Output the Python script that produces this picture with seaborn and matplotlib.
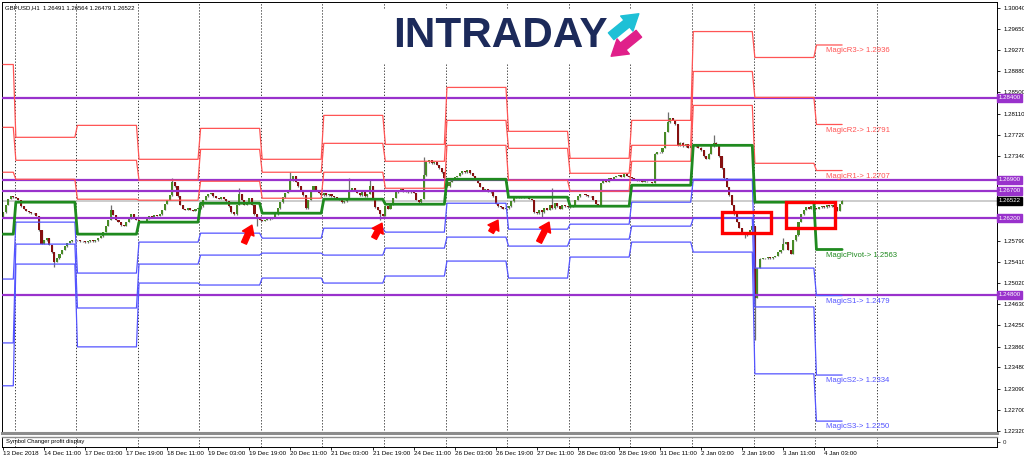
import numpy as np
import pandas as pd
import matplotlib
matplotlib.use("Agg")
import matplotlib.pyplot as plt
import seaborn as sns
from matplotlib import font_manager
from matplotlib.patches import Rectangle, FancyArrowPatch

# ---------------- data ----------------
day_names = ["13 Dec", "14 Dec", "17 Dec", "18 Dec", "19 Dec", "20 Dec", "21 Dec", "24 Dec",
             "26 Dec", "27 Dec", "28 Dec", "31 Dec", "2 Jan", "3 Jan", "4 Jan"]
bars_per_day = [5, 24, 24, 24, 24, 24, 24, 24, 24, 24, 24, 24, 24, 24, 11]

# hourly closes of GBPUSD H1, in pips (12652 -> 1.2652), one list per day
closes_13dec = [12631, 12644, 12655, 12660, 12658]
closes_14dec = [12657, 12653, 12642, 12637, 12633, 12631, 12629, 12629, 12624, 12598, 12573, 12580,
                12584, 12571, 12558, 12540, 12547, 12555, 12562, 12569, 12575, 12578, 12580, 12580]
closes_17dec = [12580, 12578, 12578, 12576, 12578, 12580, 12578, 12580, 12584, 12587, 12595, 12606,
                12617, 12635, 12626, 12617, 12613, 12607, 12606, 12613, 12620, 12627, 12622, 12617]
closes_18dec = [12615, 12613, 12615, 12620, 12624, 12622, 12626, 12624, 12627, 12635, 12646, 12653,
                12662, 12686, 12678, 12660, 12644, 12637, 12635, 12638, 12635, 12633, 12637, 12638]
closes_19dec = [12642, 12653, 12660, 12664, 12666, 12660, 12657, 12655, 12658, 12655, 12651, 12642,
                12631, 12627, 12644, 12664, 12653, 12644, 12649, 12657, 12644, 12627, 12620, 12617]
closes_20dec = [12615, 12617, 12618, 12620, 12622, 12627, 12638, 12649, 12658, 12666, 12671, 12689,
                12697, 12686, 12678, 12671, 12662, 12638, 12653, 12671, 12678, 12671, 12666, 12662]
closes_21dec = [12666, 12662, 12664, 12660, 12658, 12657, 12653, 12649, 12651, 12657, 12671, 12675,
                12671, 12666, 12662, 12667, 12660, 12664, 12678, 12657, 12640, 12635, 12627, 12624]
closes_24dec = [12642, 12637, 12644, 12657, 12667, 12671, 12673, 12669, 12671, 12667, 12671, 12666,
                12653, 12649, 12655, 12698, 12722, 12726, 12720, 12722, 12717, 12711, 12704, 12693]
closes_26dec = [12678, 12687, 12693, 12695, 12697, 12702, 12706, 12704, 12708, 12702, 12697, 12693,
                12684, 12677, 12671, 12673, 12669, 12667, 12660, 12646, 12642, 12640, 12637, 12638]
closes_27dec = [12642, 12651, 12657, 12658, 12657, 12658, 12657, 12657, 12655, 12653, 12631, 12629,
                12635, 12631, 12638, 12635, 12644, 12638, 12647, 12642, 12637, 12644, 12642, 12640]
closes_28dec = [12642, 12644, 12653, 12660, 12664, 12664, 12662, 12660, 12660, 12653, 12646, 12644,
                12684, 12689, 12687, 12693, 12691, 12695, 12697, 12698, 12695, 12700, 12697, 12695]
closes_31dec = [12693, 12691, 12689, 12689, 12687, 12687, 12686, 12686, 12684, 12738, 12740, 12740,
                12748, 12777, 12795, 12802, 12799, 12791, 12753, 12758, 12751, 12755, 12748, 12751]
closes_2jan = [12753, 12751, 12749, 12744, 12733, 12728, 12738, 12751, 12758, 12753, 12733, 12711,
               12693, 12677, 12662, 12644, 12627, 12613, 12602, 12595, 12589, 12593, 12598, 12606]
closes_3jan = [12475, 12529, 12546, 12547, 12547, 12549, 12547, 12549, 12551, 12558, 12562, 12573,
               12576, 12562, 12555, 12580, 12589, 12613, 12627, 12635, 12640, 12637, 12642, 12638]
closes_4jan = [12637, 12640, 12642, 12640, 12644, 12642, 12644, 12640, 12633, 12646, 12652]
first_open = 12622

# visible wick extremes (bar number, price in pips)
spike_bar = [20, 42, 66, 92, 99, 112, 135, 143, 147, 164, 210, 214, 259, 277, 289, 293, 304]
spike_pips = [12531, 12644, 12693, 12675, 12607, 12704, 12693, 12689, 12617, 12731, 12622, 12675,
              12813, 12771, 12584, 12398, 12584]

# daily MagicPivot levels
r3 = [1.29004, 1.27676, 1.27894, 1.27275, 1.27839, 1.27275, 1.28076, 1.27548, 1.28586, 1.27785, 1.27293, 1.27985, 1.29605, 1.29132, 1.2936]
r2 = [1.27858, 1.27257, 1.27257, 1.26893, 1.27457, 1.27039, 1.27566, 1.27239, 1.27985, 1.27475, 1.27020, 1.27530, 1.28877, 1.28404, 1.2791]
r1 = [1.27039, 1.26911, 1.26547, 1.26529, 1.26875, 1.26565, 1.27039, 1.26747, 1.27530, 1.26893, 1.26693, 1.27239, 1.28258, 1.27202, 1.2707]
pivot = [1.25910, 1.26493, 1.25910, 1.26129, 1.26474, 1.26292, 1.26547, 1.26456, 1.26911, 1.26584, 1.26420, 1.26802, 1.27530, 1.26493, 1.2563]
s1 = [1.25091, 1.26129, 1.25200, 1.25765, 1.25928, 1.25837, 1.26019, 1.25947, 1.26474, 1.26001, 1.26092, 1.26493, 1.26911, 1.25291, 1.2479]
s2 = [1.23926, 1.25728, 1.24563, 1.25364, 1.25528, 1.25564, 1.25528, 1.25655, 1.25856, 1.25692, 1.25819, 1.26056, 1.26201, 1.24582, 1.2334]
s3 = [1.23144, 1.25364, 1.23854, 1.25018, 1.24982, 1.25109, 1.25018, 1.25146, 1.25419, 1.25109, 1.25492, 1.25765, 1.25583, 1.23362, 1.2250]

hlines = [1.28400, 1.26900, 1.26700, 1.26200, 1.24800]
last_price = 1.26522
header = "GBPUSD,H1  1.26491 1.26564 1.26479 1.26522"

xtick_labels = ["13 Dec 2018", "14 Dec 11:00", "17 Dec 03:00", "17 Dec 19:00", "18 Dec 11:00",
                "19 Dec 03:00", "19 Dec 19:00", "20 Dec 11:00", "21 Dec 03:00", "21 Dec 19:00",
                "24 Dec 11:00", "26 Dec 03:00", "26 Dec 19:00", "27 Dec 11:00", "28 Dec 03:00",
                "28 Dec 19:00", "31 Dec 11:00", "2 Jan 03:00", "2 Jan 19:00", "3 Jan 11:00", "4 Jan 03:00"]
ytick_values = [1.30040, 1.29650, 1.29270, 1.28880, 1.28500, 1.28110, 1.27720, 1.27340, 1.25790,
                1.25410, 1.25020, 1.24630, 1.24250, 1.23860, 1.23480, 1.23090, 1.22700, 1.22320]

# annotations drawn on the screenshot (bar, price)
arrows = [((93.9, 1.25746), (97.0, 1.26074)), ((144.6, 1.25837), (147.7, 1.26110)),
          ((190.2, 1.25947), (192.9, 1.26165)), ((208.9, 1.25765), (212.8, 1.26129))]
boxes = [(280.2, 1.25928, 299.3, 1.26311), (305.1, 1.26019, 324.2, 1.26493)]

# ---------------- build ----------------
closes = np.array(closes_13dec + closes_14dec + closes_17dec + closes_18dec + closes_19dec
                  + closes_20dec + closes_21dec + closes_24dec + closes_26dec + closes_27dec
                  + closes_28dec + closes_31dec + closes_2jan + closes_3jan + closes_4jan) / 1e4
opens = np.r_[first_open / 1e4, closes[:-1]]
highs = np.maximum(opens, closes)
lows = np.minimum(opens, closes)
for b, p in zip(spike_bar, spike_pips):
    p = p / 1e4
    if p > highs[b]:
        highs[b] = p
    else:
        lows[b] = p
bars = np.arange(len(closes))

levels = pd.DataFrame({
    "bar": np.tile(bars, 6),
    "level": np.repeat(["R3", "R2", "R1", "S1", "S2", "S3"], len(bars)),
    "price": np.concatenate([np.repeat(v, bars_per_day) for v in (r3, r2, r1, s1, s2, s3)]),
})
pivot_bar = pd.DataFrame({"bar": bars, "price": np.repeat(pivot, bars_per_day)})
day_starts = np.cumsum(bars_per_day)[:-1]
grid_x = list(day_starts - 0.5) + [day_starts[-1] + 24 - 0.5]

RED, BLUE, GREEN, PURPLE = "#ff5454", "#5454ff", "#1f8a1f", "#9932cc"

sns.set_theme(style="white")
plt.rcParams["font.family"] = ["Liberation Sans", "DejaVu Sans"]

fig = plt.figure(figsize=(10.24, 4.59), dpi=100)
ax = fig.add_axes([2 / 1024, 26 / 459, 995 / 1024, 431 / 459])
sub = fig.add_axes([2 / 1024, 12 / 459, 995 / 1024, 10 / 459])
xlim = (-0.4, -0.4 + 995 / 2.566)

# candles
up = closes >= opens
ax.vlines(bars, lows - 0.00006, highs + 0.00006, color="#6e6e6e", lw=0.9, zorder=2)
body = np.maximum(np.abs(closes - opens), 0.00009)
ax.bar(bars[up], body[up], bottom=opens[up], width=0.8, color="#478a26", linewidth=0, zorder=2.2)
ax.bar(bars[~up], body[~up], bottom=closes[~up], width=0.8, color="#861010", linewidth=0, zorder=2.2)

# pivot levels
sns.lineplot(data=levels, x="bar", y="price", hue="level", units="level", estimator=None,
             palette={"R3": RED, "R2": RED, "R1": RED, "S1": BLUE, "S2": BLUE, "S3": BLUE},
             linewidth=0.9, legend=False, ax=ax, zorder=3)
sns.lineplot(data=pivot_bar, x="bar", y="price", color=GREEN, linewidth=2.0, ax=ax, zorder=3.2)

# horizontal levels and last price
ax.axhline(last_price, color="#c4c4c4", lw=1.2, zorder=1.5)
for h in hlines:
    ax.axhline(h, color=PURPLE, lw=1.6, zorder=2.6)
    ax.text(1.0015, h, f"{h:.5f}", transform=ax.get_yaxis_transform(), fontsize=4.4, color="white",
            va="center", ha="left", zorder=6, clip_on=False,
            bbox=dict(boxstyle="square,pad=0.25", fc=PURPLE, ec=PURPLE))
ax.text(1.0015, last_price, f"{last_price:.5f}", transform=ax.get_yaxis_transform(), fontsize=4.4,
        color="white", va="center", ha="left", zorder=6, clip_on=False,
        bbox=dict(boxstyle="square,pad=0.25", fc="black", ec="black"))

# end-of-line labels
last = [("MagicR3", r3[-1], RED), ("MagicR2", r2[-1], RED), ("MagicR1", r1[-1], RED),
        ("MagicPivot", pivot[-1], GREEN), ("MagicS1", s1[-1], BLUE), ("MagicS2", s2[-1], BLUE),
        ("MagicS3", s3[-1], BLUE)]
for name, val, col in last:
    ax.annotate(f"{name}-> {val:.4f}", (320.7, val), xytext=(0, -1.5), textcoords="offset points",
                fontsize=5.6, color=col, va="top", ha="left", zorder=5)

# arrows and boxes
for tail, tip in arrows:
    ax.annotate("", xy=tip, xytext=tail, zorder=6,
                arrowprops=dict(arrowstyle="simple,head_length=0.55,head_width=0.75,tail_width=0.32",
                                color="#ff0000", shrinkA=0, shrinkB=0))
for x0, y0, x1, y1 in boxes:
    ax.add_patch(Rectangle((x0, y0), x1 - x0, y1 - y0, fill=False, ec="#ff0000", lw=2.4, zorder=6))

# grid, axes
for a in (ax, sub):
    for gx in grid_x:
        a.axvline(gx, color="#3a3a3a", lw=0.7, ls=(0, (1.3, 1.8)), zorder=1)
    a.set_xlim(*xlim)
    a.set_xlabel("")
    a.set_ylabel("")
    a.set_facecolor("white")

ax.set_ylim(1.22283, 1.30144)
ax.set_xticks([])
ax.yaxis.tick_right()
ax.set_yticks(ytick_values)
ax.set_yticklabels([f"{v:.5f}" for v in ytick_values])
ax.tick_params(axis="y", right=True, left=False, labelright=True, labelleft=False, length=2.5,
               width=0.6, pad=2, labelsize=4.4, colors="black")
for s in ("left", "right", "top"):
    ax.spines[s].set_color("black")
    ax.spines[s].set_linewidth(0.7)
ax.spines["bottom"].set_color("#8c8c8c")
ax.spines["bottom"].set_linewidth(2.2)

sub.set_ylim(0, 1)
sub.set_yticks([0.5])
sub.set_yticklabels(["0"])
sub.yaxis.tick_right()
sub.tick_params(axis="y", right=True, left=False, labelright=True, labelleft=False, length=2,
                width=0.6, pad=2, labelsize=4.4)
sub.set_xticks(np.arange(len(xtick_labels)) * 16)
sub.set_xticklabels(xtick_labels)
sub.tick_params(axis="x", bottom=True, length=2, width=0.6, pad=1.2, labelsize=4.5, colors="black")
for lab in sub.get_xticklabels():
    lab.set_ha("left")
for s in ("left", "right", "bottom"):
    sub.spines[s].set_color("black")
    sub.spines[s].set_linewidth(0.7)
sub.spines["top"].set_color("#8c8c8c")
sub.spines["top"].set_linewidth(1.0)
sub.text(0.004, 0.5, "Symbol Changer profit display", transform=sub.transAxes, fontsize=4.2,
         va="center", ha="left", color="black")

ax.text(0.003, 0.993, header, transform=ax.transAxes, fontsize=4.3, va="top", ha="left", color="black")

# INTRADAY logo: tall, tight lettering, fitted to the width seen in the screenshot
installed = {f.name for f in font_manager.fontManager.ttflist}
logo_font = "Liberation Sans Narrow" if "Liberation Sans Narrow" in installed else "Liberation Sans"
fig.patches.append(Rectangle((383 / 1024, 1 - 63 / 459), 258 / 1024, 54 / 459, transform=fig.transFigure,
                             fc="white", ec="none", zorder=7))
logo = fig.text(393 / 1024, 1 - 36 / 459, "INTRADAY", fontsize=38, fontweight="bold", color="#1c2a5a",
                family=[logo_font, "DejaVu Sans"], va="center", ha="left", zorder=8)
fig.canvas.draw()
w = logo.get_window_extent().width
logo.set_fontsize(38 * 214 / w)
fig.add_artist(FancyArrowPatch((609 / 1024, 1 - 38 / 459), (641 / 1024, 1 - 12 / 459),
                               transform=fig.transFigure, color="#1ec0d6", zorder=9,
                               arrowstyle="simple,head_length=0.8,head_width=1.0,tail_width=0.45",
                               mutation_scale=14))
fig.add_artist(FancyArrowPatch((641 / 1024, 1 - 32 / 459), (609 / 1024, 1 - 58 / 459),
                               transform=fig.transFigure, color="#e0208a", zorder=9,
                               arrowstyle="simple,head_length=0.8,head_width=1.0,tail_width=0.45",
                               mutation_scale=14))

fig.savefig("out.png", dpi=100)
